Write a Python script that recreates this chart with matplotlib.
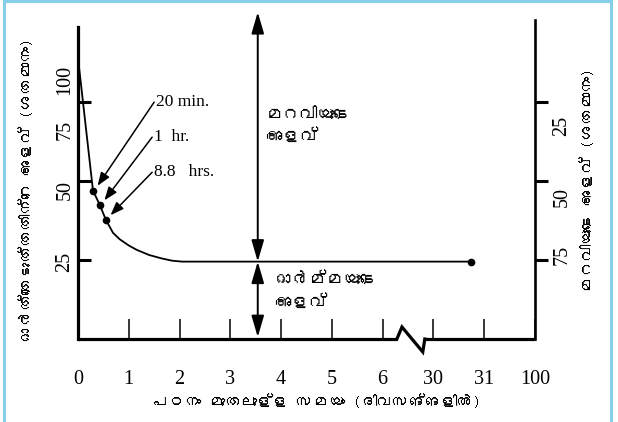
import matplotlib
matplotlib.use("Agg")
import numpy as np
import matplotlib.pyplot as plt
from matplotlib import font_manager
from matplotlib.ft2font import FT2Font
from matplotlib.patches import Rectangle

# ---- data -------------------------------------------------------------
x_tick_days = [0, 1, 2, 3, 4, 5, 6, 30, 31, 100]
x_tick_labels = ["0", "1", "2", "3", "4", "5", "6", "30", "31", "100"]

curve_days = [0.0, 0.295, 0.43, 0.55, 0.69, 0.82, 1.0, 1.16, 1.4, 1.65, 1.85, 2.05, 30.74]
curve_recall = [89.0, 47.0, 42.4, 37.7, 33.6, 31.6, 29.6, 28.2, 26.6, 25.5, 24.8, 24.5, 24.5]

marked_days = [0.295, 0.43, 0.55]
marked_recall = [47.0, 42.4, 37.7]
marked_labels = ["20 min.", "1  hr.", "8.8   hrs."]

end_day = 30.74
end_recall = 24.5

recall_ticks = [25, 50, 75]
recall_tick_labels = ["100", "75", "50", "25"]
forget_tick_labels = ["25", "50", "75"]

marker_day = 3.54
plateau = 24.5
arrow_top = 103.5

title_left = "ഓർത്തെടുത്തതിന്റെ അളവ് (ശതമാനം)"
title_right = "മറവിയുടെ അളവ് (ശതമാനം)"
title_bottom = "പഠനം മുതലുള്ള സമയം (ദിവസങ്ങളിൽ)"
forget_text = "മറവിയുടെ\nഅളവ്"
recall_text = "ഓർമ്മയുടെ\nഅളവ്"

# ---- fonts ------------------------------------------------------------
def malayalam_family():
    for f in font_manager.fontManager.ttflist:
        try:
            if 0x0D2E in FT2Font(f.fname).get_charmap():
                return f.name
        except Exception:
            continue
    return None

ml = malayalam_family()
ml_fam = [ml, "DejaVu Sans"] if ml else ["DejaVu Sans"]
serif = ["Liberation Serif", "DejaVu Serif"]

# broken x axis: 0..6 days evenly, then 30, 31, 100
def pos(days):
    return np.interp(days, x_tick_days, np.arange(len(x_tick_days)))

W, H = 618, 422
fig = plt.figure(figsize=(W / 100, H / 100), dpi=100)
fig.patch.set_facecolor("white")

x0, x1, ytop, ybot = 78, 535, 20, 339
ax = fig.add_axes([x0 / W, 1 - ybot / H, (x1 - x0) / W, (ybot - ytop) / H])
ax.set_xlim(0, 9)
ax.set_ylim(0, 101)
ax.patch.set_alpha(0)

for s in ["top", "bottom", "right"]:
    ax.spines[s].set_visible(False)
ax.spines["left"].set_linewidth(2.3)
ax.spines["left"].set_bounds(0, 98.8)

ax.set_yticks(recall_ticks)
ax.tick_params(axis="y", direction="in", length=9, width=2.2, labelleft=False)

ax.set_xticks(np.arange(len(x_tick_days)))
ax.set_xticklabels(x_tick_labels, fontfamily=serif, fontsize=14.5)
ax.tick_params(axis="x", direction="in", length=14.5, width=1.1, pad=22)

# right axis for the forgetting scale
ax2 = ax.twinx()
ax2.set_ylim(0, 101)
for s in ["top", "bottom", "left"]:
    ax2.spines[s].set_visible(False)
ax2.spines["right"].set_linewidth(1.9)
ax2.set_yticks(recall_ticks)
ax2.tick_params(axis="y", direction="out", length=9, width=2.2, labelright=False)

# bottom axis line with break
brk = [6.28, 6.38, 6.79, 6.83]
lk = dict(color="black", lw=2.3, solid_capstyle="butt", clip_on=False)
ax.plot([0, brk[0]], [0, 0], **lk)
ax.plot([brk[3], 9], [0, 0], **lk)
ax.plot(brk, [0, 3.8, -4.1, 0], color="black", lw=2.3, clip_on=False,
        solid_joinstyle="miter")

# recall curve
px = pos(curve_days)
ax.plot(px, curve_recall, color="black", lw=1.3)
ax.plot(pos(marked_days), marked_recall, "o", color="black", ms=4.5)
ax.plot(pos([end_day]), [end_recall], "o", color="black", ms=4.5)

# labelled points
tails = [(1.50, 75.0), (1.46, 63.9), (1.46, 52.8)]
for (tx, ty), d, r, lab in zip(tails, marked_days, marked_recall, marked_labels):
    hx = pos(d) + 0.09
    hy = r + 1.5
    ax.annotate("", xy=(hx, hy), xytext=(tx, ty),
                arrowprops=dict(arrowstyle="-|>,head_length=0.8,head_width=0.3",
                                color="black", lw=1.1, shrinkA=0, shrinkB=0,
                                mutation_scale=10))
    ax.text(tx + 0.03, ty, lab, fontfamily=serif, fontsize=12.5,
            ha="left", va="center")

# forgetting / retention double arrows
ap = dict(arrowstyle="<|-|>,head_length=1.3,head_width=0.38", color="black",
          lw=1.4, shrinkA=0, shrinkB=0, mutation_scale=10)
mx = pos(marker_day)
ax.annotate("", xy=(mx, arrow_top), xytext=(mx, plateau), arrowprops=ap,
            annotation_clip=False)
ax.annotate("", xy=(mx, 0.6), xytext=(mx, plateau), arrowprops=ap)

ax.text(3.70, 67.6, forget_text, fontfamily=ml_fam, fontsize=12.5,
        style="italic", ha="left", va="center", linespacing=1.45)
ax.text(3.88, 15.2, recall_text, fontfamily=ml_fam, fontsize=12.5,
        style="italic", ha="left", va="center", linespacing=1.45)

# value labels on both sides
left_label_y = [82.0, 66.2, 47.2, 24.4]
for lab, yv in zip(recall_tick_labels, left_label_y):
    ax.text(-13 / 50.8, yv, lab, fontfamily=serif, fontsize=14.5, rotation=90,
            ha="center", va="center")
right_label_y = [67.4, 45.0, 26.6]
for lab, yv in zip(forget_tick_labels, right_label_y):
    ax.text(9 + 27 / 50.8, yv, lab, fontfamily=serif, fontsize=14.5, rotation=90,
            ha="center", va="center", clip_on=False)

# axis titles
fig.text(27 / W, 1 - 190 / H, title_left, fontfamily=ml_fam, fontsize=11.5,
         fontweight="bold", rotation=90, ha="center", va="center")
fig.text(588 / W, 1 - 180 / H, title_right, fontfamily=ml_fam, fontsize=11.5,
         fontweight="bold", rotation=90, ha="center", va="center")
fig.text(317 / W, 1 - 401 / H, title_bottom, fontfamily=ml_fam, fontsize=11.5,
         fontweight="bold", ha="center", va="center")

# light frame around the figure
fig.patches.append(Rectangle((4 / W, -0.05), (611 - 4) / W, 1.05 - 1.5 / H,
                             transform=fig.transFigure, fill=False,
                             edgecolor="#86cfe6", lw=2.2))

fig.savefig("out.png", dpi=100)
